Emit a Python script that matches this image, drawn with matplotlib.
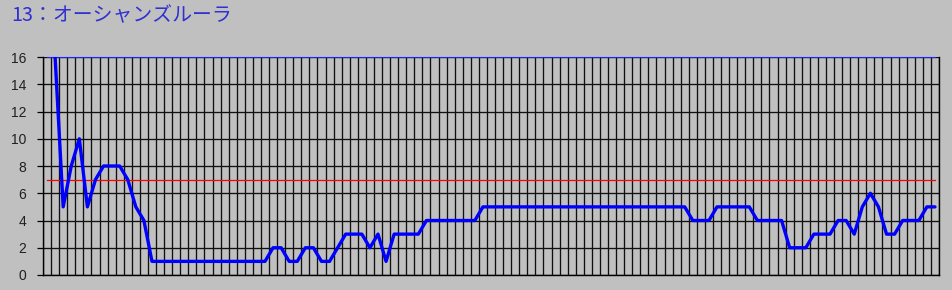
import numpy as np
import matplotlib
matplotlib.use("Agg")
import matplotlib.pyplot as plt

plt.rcParams['font.family'] = ['Noto Sans CJK JP', 'DejaVu Sans']

title = "13：オーシャンズルーラ"
values = [np.nan, 16, 5, 8, 10, 5, 7, 8, 8, 8, 7, 5, 4,
          1, 1, 1, 1, 1, 1, 1, 1, 1, 1, 1, 1, 1, 1, 1,
          2, 2, 1, 1, 2, 2, 1, 1, 2, 3, 3, 3, 2, 3, 1, 3, 3, 3, 3,
          4, 4, 4, 4, 4, 4, 4,
          5, 5, 5, 5, 5, 5, 5, 5, 5, 5, 5, 5, 5, 5, 5, 5, 5, 5, 5, 5, 5, 5, 5, 5, 5, 5,
          4, 4, 4,
          5, 5, 5, 5, 5,
          4, 4, 4, 4,
          2, 2, 2,
          3, 3, 3,
          4, 4,
          3, 5, 6, 5,
          3, 3,
          4, 4, 4,
          5, 5]
threshold_red = 7
threshold_top = 16
yticks = [0, 2, 4, 6, 8, 10, 12, 14, 16]

n = len(values)
x = np.arange(n)

bg = '#C0C0C0'
fig = plt.figure(figsize=(9.52, 2.90), dpi=100, facecolor=bg)
ax = fig.add_axes([43/952, 15/290, 896/952, 218/290])
ax.set_facecolor(bg)

ax.set_xlim(-0.5, n - 0.5)
ax.set_ylim(0, 16)

# grid
ax.set_xticks(np.arange(-0.5, n, 1.0))
ax.set_yticks(yticks)
ax.set_yticklabels([str(v) for v in yticks], fontsize=10, color='#202020',
                   family=['Liberation Sans', 'DejaVu Sans'])
ax.tick_params(axis='x', length=0, labelbottom=False)
ax.tick_params(axis='y', length=4, width=0.9, color='black', pad=8)
ax.grid(True, color='#101010', linewidth=0.95, zorder=1)
ax.set_axisbelow(True)

for s in ['left', 'bottom', 'right']:
    ax.spines[s].set_color('black')
    ax.spines[s].set_linewidth(1.0)
ax.spines['top'].set_visible(False)

# series
ax.plot(x, [threshold_top] * n, color='#2020FF', linewidth=0.8, zorder=3, clip_on=False)
ax.plot(x, [threshold_red] * n, color='#FF0000', linewidth=0.9, zorder=3)
ax.plot(x, values, color='#0000FF', linewidth=2.4, zorder=4,
        solid_joinstyle='round', solid_capstyle='round')

fig.text(11/952, 1 - 16/290, title, fontsize=14.3, color='#3030D0',
         va='center', ha='left', family=['Noto Sans CJK JP', 'DejaVu Sans'])

fig.savefig('out.png', dpi=100, facecolor=bg)
